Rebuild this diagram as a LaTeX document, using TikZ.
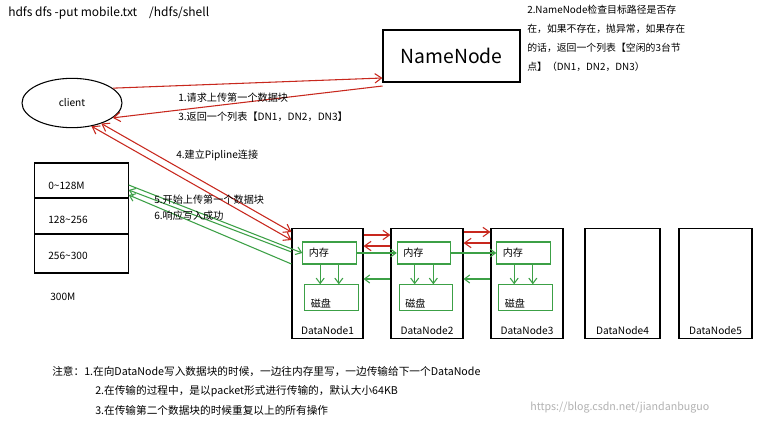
\documentclass[tikz,border=0pt]{standalone}
\usepackage{fontspec}
\setmainfont{Noto Sans CJK SC}
\usetikzlibrary{arrows.meta,shapes.geometric}
\definecolor{rd}{RGB}{200,40,30}
\definecolor{gn}{RGB}{60,160,70}
\begin{document}
\begin{tikzpicture}[x=0.75pt,y=-0.75pt,
  t/.style={inner sep=0,anchor=west,font=\fontsize{7.6}{9}\selectfont},
  box/.style={draw,thick,inner sep=0},
  dn/.style={draw,thick,minimum height=82pt,inner sep=0},
  gb/.style={draw=gn,thick,inner sep=0},
  ra/.style={rd,thick,-{Straight Barb[length=5pt,width=7pt]}},
  ga/.style={gn,thick,-{Straight Barb[length=4pt,width=6pt]}}]
\useasboundingbox (0,0) rectangle (773,422);
\fill[white] (0,0) rectangle (773,422);
\node[t,font=\fontsize{9}{10}\selectfont] (title) at (8,13) {hdfs dfs -put mobile.txt\quad /hdfs/shell};
\node[box,minimum width=102.75pt,minimum height=39pt,font=\fontsize{14.5}{16}\selectfont] (nn) at (451.5,56) {NameNode};
\node[t,anchor=north west,align=left,font=\fontsize{7.4}{14.3}\selectfont] (nnt) at (527,5) {2.NameNode检查目标路径是否存\\在，如果不存在，抛异常，如果存在\\的话，返回一个列表【空闲的3台节\\点】（DN1，DN2，DN3）};
\node[draw,thick,ellipse,minimum width=75pt,minimum height=37pt,t,anchor=center] (cl) at (72,103) {client};
% file box
\node[box,minimum width=70pt,minimum height=82.5pt] (file) at (81.5,218) {};
\draw[thick] (35,198) coordinate (f1) -- (128,198);
\draw[thick] (35,234) -- (128,234);
\node[t] (fa) at (48,186) {0\textasciitilde128M};
\node[t] (fb) at (48,220) {128\textasciitilde256};
\node[t] (fc) at (48,256) {256\textasciitilde300};
\node[t] (fs) at (50,297) {300M};
% datanodes
\foreach \n/\x/\w in {1/327.5/71,2/427/72,3/527/72,4/622.5/75,5/715.5/73}{
  \node[dn,minimum width=\w*0.75pt] (dn\n) at (\x,283.5) {};
  \node[t,anchor=south] (dnl\n) at (\x,335) {DataNode\n};
}
\foreach \n/\x in {1/329.5,2/424,3/523.5}{
  \node[gb,minimum width=40pt,minimum height=16.5pt] (mem\n) at (\x,253) {};
  \node[t] at (\x-21,253) {内存};
  \node[gb,minimum width=40pt,minimum height=19pt] (disk\n) at (\x+2,297.5) {};
  \node[t] at (\x-19,304) {磁盘};
  \draw[ga] ([xshift=-7pt]mem\n.south) -- ([xshift=-7pt]mem\n.south |- disk\n.north);
  \draw[ga] ([xshift=7pt]mem\n.south) -- ([xshift=7pt]mem\n.south |- disk\n.north);
}
% client <-> namenode
\draw[ra] (cl.20) -- (nn.west |- 0,78);
\draw[ra] (nn.west |- 0,86) -- (cl.-20);
\node[t] (l1) at (178,98) {1.请求上传第一个数据块};
\node[t] (l3) at (178,117) {3.返回一个列表【DN1，DN2，DN3】};
% pipeline
\draw[rd,thick,{Straight Barb[length=5pt,width=7pt]}-{Straight Barb[length=5pt,width=7pt]}] (cl.-35) -- (dn1.north west |- 0,232);
\draw[rd,thick,{Straight Barb[length=5pt,width=7pt]}-{Straight Barb[length=5pt,width=7pt]}] (cl.-50) -- (dn1.north west |- 0,240);
\node[t] (l4) at (176,155) {4.建立Pipline连接};
% green upload
\draw[ga] (file.east |- 0,185) -- (mem1.west);
\draw[ga] (dn1.west |- 0,264) -- (file.east |- 0,195);
\draw[ga] (dn1.west |- 0,252) -- (file.east |- 0,190);
\node[t] (l5) at (154,200) {5.开始上传第一个数据块};
\node[t] (l6) at (154,216) {6.响应写入成功};
% inter datanode
\draw[ra] (dn1.east |- 0,235) -- (dn2.west |- 0,235);
\draw[ra] (dn2.west |- 0,246) -- (dn1.east |- 0,246);
\draw[ra] (dn2.east |- 0,232) -- (dn3.west |- 0,232);
\draw[ra] (dn3.west |- 0,243) -- (dn2.east |- 0,243);
\draw[ga] (mem1.east) -- (mem2.west);
\draw[ga] (mem2.east) -- (mem3.west);
\draw[ga] (dn2.west |- 0,279) -- (dn1.east |- 0,279);
\draw[ga] (dn3.west |- 0,279) -- (dn2.east |- 0,279);
% notes
\node[t,font=\fontsize{8}{9}\selectfont] (n1) at (52,372) {注意：1.在向DataNode写入数据块的时候，一边往内存里写，一边传输给下一个DataNode};
\node[t,font=\fontsize{8}{9}\selectfont] (n2) at (95,391) {2.在传输的过程中，是以packet形式进行传输的，默认大小64KB};
\node[t,font=\fontsize{8}{9}\selectfont] (n3) at (95,410) {3.在传输第二个数据块的时候重复以上的所有操作};
\node[t,text=gray!60,font=\fontsize{8}{9}\selectfont] (wm) at (530,408) {https://blog.csdn.net/jiandanbuguo};
\end{tikzpicture}
\end{document}
